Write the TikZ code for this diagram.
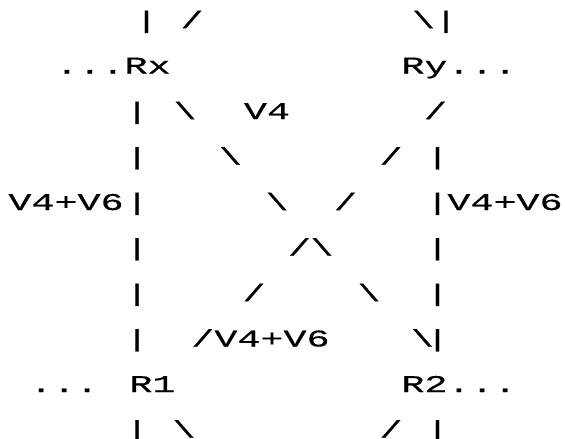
\documentclass[tikz,border=0pt]{standalone}
\usepackage{fontspec}
\newfontfamily\asciifont{Liberation Mono}[FakeStretch=1.6, FakeBold=0.5]
\usetikzlibrary{positioning}

\begin{document}
\begin{tikzpicture}[
    x=1pt, y=-1pt,
    glyph/.style={inner sep=0pt, anchor=base, font={\asciifont\fontsize{24}{28}\selectfont}}
]
\path[use as bounding box, fill=white] (0,0) rectangle (565,439);

% routers with their dots
\node[glyph] (Rx) at (113,73.5) {...Rx};
\node[glyph] (Ry) at (459,73.5) {Ry...};
\node[glyph] (R1) at (102.5,392) {... R1};
\node[glyph] (R2) at (459,392) {R2...};

% labels
\node[glyph] (lv4) at (267,119) {V4};
\node[glyph] (lleft) at (66,210) {V4+V6};
\node[glyph] (lright) at (505,210) {V4+V6};
\node[glyph] (lcross) at (260.5,346.5) {/V4+V6};

% links, drawn as characters
\foreach \x/\y [count=\i] in {146.5/28, 446/28, 137/119, 137/164.5, 437.5/164.5,
    137/210, 437.5/210, 137/255.5, 437.5/255.5, 137/301, 437.5/301,
    137/346.5, 437.5/346.5, 137/437.5, 437.5/437.5}
  \node[glyph] (pipe\i) at (\x,\y) {|};
\foreach \x/\y [count=\i] in {192/28, 435.5/119, 391/164.5, 345.5/210,
    299.5/255.5, 254/301, 391/437.5}
  \node[glyph] (sl\i) at (\x,\y) {/};
\foreach \x/\y [count=\i] in {423.5/28, 185/119, 230.5/164.5, 277/210,
    322/255.5, 369/301, 422.5/346.5, 184/437.5}
  \node[glyph] (bs\i) at (\x,\y) {\textbackslash};
\end{tikzpicture}
\end{document}
